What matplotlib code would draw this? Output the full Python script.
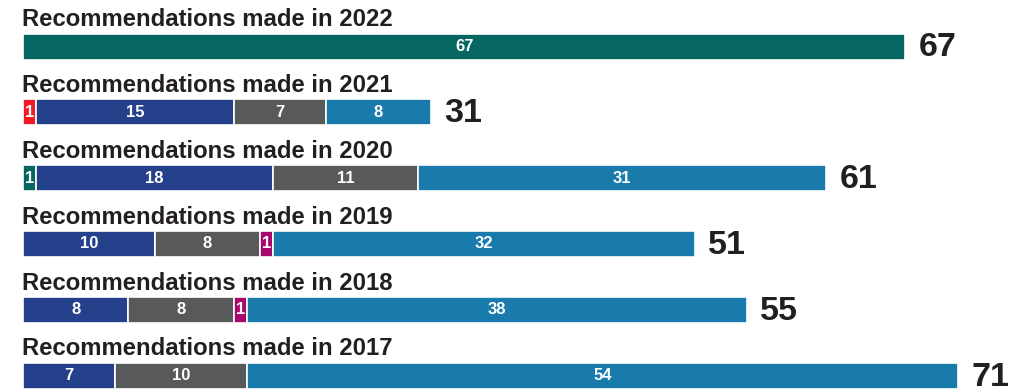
import matplotlib
matplotlib.use('Agg')
import matplotlib.pyplot as plt

# Data (top row first)
years = ['2022', '2021', '2020', '2019', '2018', '2017']
segment_values = [
    [67],
    [1, 15, 7, 8],
    [1, 18, 11, 31],
    [10, 8, 1, 32],
    [8, 8, 1, 38],
    [7, 10, 54],
]
segment_kinds = [
    ['teal'],
    ['red', 'blue', 'grey', 'light'],
    ['teal', 'blue', 'grey', 'light'],
    ['blue', 'grey', 'magenta', 'light'],
    ['blue', 'grey', 'magenta', 'light'],
    ['blue', 'grey', 'light'],
]
colours = {
    'teal': '#066662',
    'red': '#ee1c25',
    'blue': '#26418c',
    'grey': '#58595b',
    'light': '#187bab',
    'magenta': '#a8076b',
}

plt.rcParams['font.family'] = ['Liberation Sans', 'DejaVu Sans']

fig = plt.figure(figsize=(10.27, 3.9), dpi=100)
ax = fig.add_axes([0, 0, 1, 1])

# pixel scale helpers
px_x = 13.17   # pixels per recommendation
px_row = 65.8  # pixels between rows
left_px = 23
top_px = 46.5
bar_h = 26 / px_row

for i, (year, vals, kinds) in enumerate(zip(years, segment_values, segment_kinds)):
    left = 0
    for v, k in zip(vals, kinds):
        ax.barh(i, v, left=left, height=bar_h, color=colours[k],
                edgecolor='white', linewidth=1.2)
        ax.text(left + v / 2, i, str(v), ha='center', va='center',
                color='white', fontsize=12, fontweight='bold')
        left += v
    total = sum(vals)
    ax.text(total + 13 / px_x, i + 1.5 / px_row, str(total), ha='left', va='center',
            color='#231f20', fontsize=24.5, fontweight='bold')
    ax.text(-1.0 / px_x, i - bar_h / 2 - 7 / px_row,
            'Recommendations made in ' + year, ha='left', va='baseline',
            color='#231f20', fontsize=17.2, fontweight='bold')

ax.set_xlim(-left_px / px_x, (1027 - left_px) / px_x)
ax.set_ylim((390 - top_px) / px_row, -top_px / px_row)
ax.axis('off')

fig.savefig('out.png', dpi=100)
